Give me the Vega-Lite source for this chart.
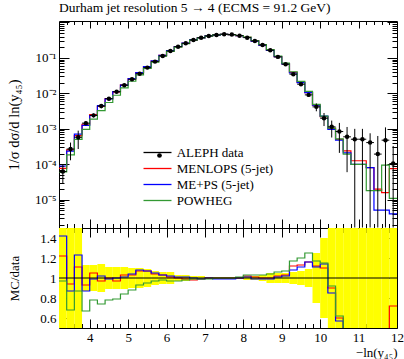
{
  "$schema": "https://vega.github.io/schema/vega-lite/v6.json",
  "padding": {"left": 5, "top": 0, "right": 0, "bottom": 0},
  "background": "white",
  "spacing": 0,
  "bounds": "flush",
  "config": {
    "view": {"stroke": "black", "strokeWidth": 1},
    "font": "Liberation Serif",
    "axis": {"domain": false, "grid": false, "tickColor": "black", "tickWidth": 1, "labelFont": "Liberation Serif", "labelFontSize": 13, "labelColor": "black", "titleFont": "Liberation Serif", "titleFontSize": 13, "titleFontWeight": "normal", "titleColor": "black", "labelFlush": false, "labelOverlap": false}
  },
  "resolve": {"scale": {"color": "independent", "shape": "independent"}},
  "datasets": {
    "bins": [
      {"lo":3.2,"hi":3.4,"c":3.3,"d":6.3e-5,"elo":2.8e-5,"ehi":1.0e-4,"blo":0.4,"bhi":1.6},
      {"lo":3.4,"hi":3.6,"c":3.5,"d":2.7e-4,"elo":1.3e-4,"ehi":4.1e-4,"blo":0.45,"bhi":1.55},
      {"lo":3.6,"hi":3.8,"c":3.7,"d":5.8e-4,"elo":2.7e-4,"ehi":8.9e-4,"blo":0.45,"bhi":1.55},
      {"lo":3.8,"hi":4.0,"c":3.9,"d":1.45e-3,"elo":1.26e-3,"ehi":1.64e-3,"blo":0.87,"bhi":1.13},
      {"lo":4.0,"hi":4.2,"c":4.1,"d":2.4e-3,"elo":2.09e-3,"ehi":2.71e-3,"blo":0.87,"bhi":1.13},
      {"lo":4.2,"hi":4.4,"c":4.3,"d":4.4e-3,"elo":3.78e-3,"ehi":5.02e-3,"blo":0.86,"bhi":1.14},
      {"lo":4.4,"hi":4.6,"c":4.5,"d":7.1e-3,"elo":6.32e-3,"ehi":7.88e-3,"blo":0.89,"bhi":1.11},
      {"lo":4.6,"hi":4.8,"c":4.7,"d":0.0112,"elo":0.00997,"ehi":0.01243,"blo":0.89,"bhi":1.11},
      {"lo":4.8,"hi":5.0,"c":4.9,"d":0.017,"elo":0.01513,"ehi":0.01887,"blo":0.89,"bhi":1.11},
      {"lo":5.0,"hi":5.2,"c":5.1,"d":0.025,"elo":0.0225,"ehi":0.0275,"blo":0.9,"bhi":1.1},
      {"lo":5.2,"hi":5.4,"c":5.3,"d":0.036,"elo":0.0324,"ehi":0.0396,"blo":0.9,"bhi":1.1},
      {"lo":5.4,"hi":5.6,"c":5.5,"d":0.0533,"elo":0.0485,"ehi":0.0581,"blo":0.91,"bhi":1.09},
      {"lo":5.6,"hi":5.8,"c":5.7,"d":0.0787,"elo":0.0732,"ehi":0.0842,"blo":0.93,"bhi":1.07},
      {"lo":5.8,"hi":6.0,"c":5.9,"d":0.114,"elo":0.1072,"ehi":0.1208,"blo":0.94,"bhi":1.06},
      {"lo":6.0,"hi":6.2,"c":6.1,"d":0.157,"elo":0.1476,"ehi":0.1664,"blo":0.94,"bhi":1.06},
      {"lo":6.2,"hi":6.4,"c":6.3,"d":0.208,"elo":0.2018,"ehi":0.2142,"blo":0.97,"bhi":1.03},
      {"lo":6.4,"hi":6.6,"c":6.5,"d":0.259,"elo":0.2512,"ehi":0.2668,"blo":0.97,"bhi":1.03},
      {"lo":6.6,"hi":6.8,"c":6.7,"d":0.321,"elo":0.3146,"ehi":0.3274,"blo":0.98,"bhi":1.02},
      {"lo":6.8,"hi":7.0,"c":6.9,"d":0.373,"elo":0.3655,"ehi":0.3805,"blo":0.98,"bhi":1.02},
      {"lo":7.0,"hi":7.2,"c":7.1,"d":0.417,"elo":0.4128,"ehi":0.4212,"blo":0.99,"bhi":1.01},
      {"lo":7.2,"hi":7.4,"c":7.3,"d":0.445,"elo":0.4406,"ehi":0.4495,"blo":0.99,"bhi":1.01},
      {"lo":7.4,"hi":7.6,"c":7.5,"d":0.466,"elo":0.4613,"ehi":0.4707,"blo":0.99,"bhi":1.01},
      {"lo":7.6,"hi":7.8,"c":7.7,"d":0.455,"elo":0.4505,"ehi":0.4596,"blo":0.99,"bhi":1.01},
      {"lo":7.8,"hi":8.0,"c":7.9,"d":0.425,"elo":0.4208,"ehi":0.4293,"blo":0.99,"bhi":1.01},
      {"lo":8.0,"hi":8.2,"c":8.1,"d":0.373,"elo":0.3655,"ehi":0.3805,"blo":0.98,"bhi":1.02},
      {"lo":8.2,"hi":8.4,"c":8.3,"d":0.301,"elo":0.295,"ehi":0.307,"blo":0.98,"bhi":1.02},
      {"lo":8.4,"hi":8.6,"c":8.5,"d":0.232,"elo":0.225,"ehi":0.239,"blo":0.97,"bhi":1.03},
      {"lo":8.6,"hi":8.8,"c":8.7,"d":0.165,"elo":0.1568,"ehi":0.1733,"blo":0.95,"bhi":1.05},
      {"lo":8.8,"hi":9.0,"c":8.9,"d":0.107,"elo":0.1017,"ehi":0.1124,"blo":0.95,"bhi":1.05},
      {"lo":9.0,"hi":9.2,"c":9.1,"d":0.0665,"elo":0.0632,"ehi":0.0698,"blo":0.95,"bhi":1.05},
      {"lo":9.2,"hi":9.4,"c":9.3,"d":0.0348,"elo":0.0327,"ehi":0.0369,"blo":0.94,"bhi":1.06},
      {"lo":9.4,"hi":9.6,"c":9.5,"d":0.0182,"elo":0.0169,"ehi":0.0195,"blo":0.93,"bhi":1.07},
      {"lo":9.6,"hi":9.8,"c":9.7,"d":0.00908,"elo":0.00826,"ehi":0.0099,"blo":0.91,"bhi":1.09},
      {"lo":9.8,"hi":10.0,"c":9.9,"d":0.00417,"elo":0.00313,"ehi":0.00521,"blo":0.75,"bhi":1.25},
      {"lo":10.0,"hi":10.2,"c":10.1,"d":0.002,"elo":0.0012,"ehi":0.0028,"blo":0.6,"bhi":1.4},
      {"lo":10.2,"hi":10.4,"c":10.3,"d":0.00114,"elo":0.00057,"ehi":0.00171,"blo":0.49,"bhi":1.51},
      {"lo":10.4,"hi":10.6,"c":10.5,"d":0.00084,"elo":0.00021,"ehi":0.00147,"blo":0.49,"bhi":1.51},
      {"lo":10.6,"hi":10.8,"c":10.7,"d":0.000596,"elo":0.00006,"ehi":0.00113,"blo":0.49,"bhi":1.51},
      {"lo":10.8,"hi":11.0,"c":10.9,"d":0.00051,"elo":1.65e-6,"ehi":0.001,"blo":0.49,"bhi":1.51},
      {"lo":11.0,"hi":11.2,"c":11.1,"d":0.00051,"elo":1.65e-6,"ehi":0.001,"blo":0.49,"bhi":1.51},
      {"lo":11.2,"hi":11.4,"c":11.3,"d":0.00041,"elo":1.65e-6,"ehi":0.00075,"blo":0.49,"bhi":1.51},
      {"lo":11.4,"hi":11.6,"c":11.5,"d":0.000194,"elo":1.65e-6,"ehi":0.00063,"blo":0.49,"bhi":1.51},
      {"lo":11.6,"hi":11.8,"c":11.7,"d":0.00048,"elo":1.65e-6,"ehi":0.0011,"blo":0.49,"bhi":1.51},
      {"lo":11.8,"hi":12.0,"c":11.9,"d":0.000105,"elo":1.65e-6,"ehi":0.00033,"blo":0.49,"bhi":1.51}
    ],
    "mc": [
      {"x":3.2,"M":7.69e-5,"P":8.95e-5,"W":6.11e-5,"rM":1.22,"rP":1.42,"rW":0.97},
      {"x":3.4,"M":2.54e-4,"P":2.35e-4,"W":1.84e-4,"rM":0.94,"rP":0.87,"rW":0.68},
      {"x":3.6,"M":6.44e-4,"P":7.13e-4,"W":5.05e-4,"rM":1.11,"rP":1.23,"rW":0.87},
      {"x":3.8,"M":1.35e-3,"P":1.26e-3,"W":9.72e-4,"rM":0.93,"rP":0.87,"rW":0.67},
      {"x":4.0,"M":2.52e-3,"P":2.38e-3,"W":1.87e-3,"rM":1.05,"rP":0.99,"rW":0.78},
      {"x":4.2,"M":4.27e-3,"P":4.49e-3,"W":3.26e-3,"rM":0.97,"rP":1.02,"rW":0.74},
      {"x":4.4,"M":7.1e-3,"P":7.03e-3,"W":5.54e-3,"rM":1.0,"rP":0.99,"rW":0.78},
      {"x":4.6,"M":0.01086,"P":0.0112,"W":0.00885,"rM":0.97,"rP":1.0,"rW":0.79},
      {"x":4.8,"M":0.01751,"P":0.01717,"W":0.01428,"rM":1.03,"rP":1.01,"rW":0.84},
      {"x":5.0,"M":0.02575,"P":0.026,"W":0.022,"rM":1.03,"rP":1.04,"rW":0.88},
      {"x":5.2,"M":0.03852,"P":0.03888,"W":0.03348,"rM":1.07,"rP":1.08,"rW":0.93},
      {"x":5.4,"M":0.05703,"P":0.05703,"W":0.05064,"rM":1.07,"rP":1.07,"rW":0.95},
      {"x":5.6,"M":0.08185,"P":0.08264,"W":0.07634,"rM":1.04,"rP":1.05,"rW":0.97},
      {"x":5.8,"M":0.1174,"P":0.1174,"W":0.1117,"rM":1.03,"rP":1.03,"rW":0.98},
      {"x":6.0,"M":0.1586,"P":0.1601,"W":0.1523,"rM":1.01,"rP":1.02,"rW":0.97},
      {"x":6.2,"M":0.208,"P":0.2101,"W":0.2018,"rM":1.0,"rP":1.01,"rW":0.97},
      {"x":6.4,"M":0.2564,"P":0.2616,"W":0.2538,"rM":0.99,"rP":1.01,"rW":0.98},
      {"x":6.6,"M":0.3146,"P":0.321,"W":0.3178,"rM":0.98,"rP":1.0,"rW":0.99},
      {"x":6.8,"M":0.3693,"P":0.3693,"W":0.3693,"rM":0.99,"rP":0.99,"rW":0.99},
      {"x":7.0,"M":0.417,"P":0.417,"W":0.4128,"rM":1.0,"rP":1.0,"rW":0.99},
      {"x":7.2,"M":0.445,"P":0.4406,"W":0.445,"rM":1.0,"rP":0.99,"rW":1.0},
      {"x":7.4,"M":0.466,"P":0.4613,"W":0.466,"rM":1.0,"rP":0.99,"rW":1.0},
      {"x":7.6,"M":0.455,"P":0.4505,"W":0.455,"rM":1.0,"rP":0.99,"rW":1.0},
      {"x":7.8,"M":0.425,"P":0.425,"W":0.4293,"rM":1.0,"rP":1.0,"rW":1.01},
      {"x":8.0,"M":0.3805,"P":0.3767,"W":0.3842,"rM":1.02,"rP":1.01,"rW":1.03},
      {"x":8.2,"M":0.304,"P":0.298,"W":0.31,"rM":1.01,"rP":0.99,"rW":1.03},
      {"x":8.4,"M":0.232,"P":0.2297,"W":0.239,"rM":1.0,"rP":0.99,"rW":1.03},
      {"x":8.6,"M":0.165,"P":0.1634,"W":0.1716,"rM":1.0,"rP":0.99,"rW":1.04},
      {"x":8.8,"M":0.1091,"P":0.1081,"W":0.1134,"rM":1.02,"rP":1.01,"rW":1.06},
      {"x":9.0,"M":0.0685,"P":0.0678,"W":0.0712,"rM":1.03,"rP":1.02,"rW":1.07},
      {"x":9.2,"M":0.039,"P":0.0376,"W":0.0407,"rM":1.12,"rP":1.08,"rW":1.17},
      {"x":9.4,"M":0.02057,"P":0.0202,"W":0.02184,"rM":1.13,"rP":1.11,"rW":1.2},
      {"x":9.6,"M":0.01053,"P":0.01053,"W":0.01135,"rM":1.16,"rP":1.16,"rW":1.25},
      {"x":9.8,"M":0.00467,"P":0.00463,"W":0.00488,"rM":1.12,"rP":1.11,"rW":1.17},
      {"x":10.0,"M":0.0022,"P":0.00228,"W":0.0023,"rM":1.1,"rP":1.14,"rW":1.15},
      {"x":10.2,"M":0.001026,"P":0.000969,"W":0.001049,"rM":0.9,"rP":0.85,"rW":0.92},
      {"x":10.4,"M":0.000504,"P":0.000479,"W":0.000521,"rM":0.6,"rP":0.57,"rW":0.62},
      {"x":10.6,"M":0.00024,"P":0.00021,"W":0.000194,"rM":0.4,"rP":0.35,"rW":0.33},
      {"x":10.8,"M":0.000126,"P":0.0001,"W":0.0001,"rM":0.25,"rP":0.2,"rW":0.2},
      {"x":11.0,"M":0.000126,"P":0.0001,"W":0.0001,"rM":0.25,"rP":0.2,"rW":0.2},
      {"x":11.2,"M":0.000081,"P":0.000081,"W":0.000018,"rM":0.2,"rP":0.2,"rW":0.044},
      {"x":11.4,"M":0.00002,"P":0.0000051,"W":0.000018,"rM":0.1,"rP":0.026,"rW":0.093},
      {"x":11.6,"M":0.000016,"P":0.0000051,"W":0.000095,"rM":0.033,"rP":0.011,"rW":0.2},
      {"x":11.8,"M":0.000076,"P":0.000004,"W":0.000011,"rM":0.72,"rP":0.038,"rW":0.105},
      {"x":12.0,"M":0.000076,"P":0.000004,"W":0.000011,"rM":0.72,"rP":0.038,"rW":0.105}
    ]
  },
  "vconcat": [
    {
      "width": 338,
      "height": 207,
      "title": {"text": "Durham jet resolution 5 → 4 (ECMS = 91.2 GeV)", "anchor": "start", "frame": "group", "font": "Liberation Serif", "fontSize": 13.5, "fontWeight": "normal", "color": "black", "offset": 2},
      "resolve": {"axis": {"x": "independent", "y": "independent"}},
      "layer": [
        {
          "data": {"name": "mc"},
          "transform": [{"fold": ["M", "P", "W"], "as": ["s", "v"]}],
          "mark": {"type": "line", "interpolate": "step-after", "strokeWidth": 1.2, "clip": true},
          "encoding": {
            "x": {"field": "x", "type": "quantitative", "scale": {"domain": [3.2, 12], "nice": false, "zero": false},
              "axis": {"orient": "bottom", "values": [3.4,3.6,3.8,4,4.2,4.4,4.6,4.8,5,5.2,5.4,5.6,5.8,6,6.2,6.4,6.6,6.8,7,7.2,7.4,7.6,7.8,8,8.2,8.4,8.6,8.8,9,9.2,9.4,9.6,9.8,10,10.2,10.4,10.6,10.8,11,11.2,11.4,11.6,11.8,12],
                "tickSize": {"condition": {"test": "abs(datum.value - round(datum.value)) < 0.01", "value": -9}, "value": -4.5}, "labels": false, "title": null}},
            "y": {"field": "v", "type": "quantitative", "scale": {"type": "log", "domain": [1.6e-6, 1.1], "nice": false},
              "axis": {"orient": "left", "values": [2e-6,3e-6,4e-6,5e-6,6e-6,7e-6,8e-6,9e-6,1e-5,2e-5,3e-5,4e-5,5e-5,6e-5,7e-5,8e-5,9e-5,1e-4,2e-4,3e-4,4e-4,5e-4,6e-4,7e-4,8e-4,9e-4,1e-3,0.002,0.003,0.004,0.005,0.006,0.007,0.008,0.009,0.01,0.02,0.03,0.04,0.05,0.06,0.07,0.08,0.09,0.1,0.2,0.3,0.4,0.5,0.6,0.7,0.8,0.9,1],
                "tickSize": {"condition": {"test": "abs(log(datum.value)/LN10 - round(log(datum.value)/LN10)) < 0.001", "value": -10}, "value": -5},
                "labelExpr": "datum.value == 0.1 ? '10⁻¹' : datum.value == 0.01 ? '10⁻²' : datum.value == 0.001 ? '10⁻³' : datum.value == 0.0001 ? '10⁻⁴' : datum.value == 0.00001 ? '10⁻⁵' : ''",
                "labelPadding": 13, "title": "1/σ dσ/d ln(y₄₅)", "titleFontSize": 14.5, "titleX": -45, "titleBaseline": "middle"}},
            "color": {"field": "s", "type": "nominal", "scale": {"domain": ["D", "M", "P", "W"], "range": ["#000000", "#ff0000", "#0000ff", "#339933"]},
              "legend": {"orient": "none", "legendX": 92, "legendY": 125, "title": null, "symbolType": "M-3,0H3", "symbolSize": 87, "symbolStrokeWidth": 1.3, "padding": 0, "rowPadding": 2, "labelOffset": 12.7, "labelFont": "Liberation Serif", "labelFontSize": 13, "labelColor": "black",
                "labelExpr": "datum.label == 'D' ? 'ALEPH data' : datum.label == 'M' ? 'MENLOPS (5-jet)' : datum.label == 'P' ? 'ME+PS (5-jet)' : 'POWHEG'"}}
          }
        },
        {
          "data": {"name": "bins"},
          "mark": {"type": "rule", "color": "black", "strokeWidth": 1, "clip": true},
          "encoding": {
            "x": {"field": "c", "type": "quantitative", "scale": {"domain": [3.2, 12], "nice": false, "zero": false}, "axis": null},
            "y": {"field": "elo", "type": "quantitative", "scale": {"type": "log", "domain": [1.6e-6, 1.1], "nice": false}, "axis": null},
            "y2": {"field": "ehi"}
          }
        },
        {
          "data": {"name": "bins"},
          "mark": {"type": "rule", "color": "black", "strokeWidth": 1, "clip": true},
          "encoding": {
            "x": {"field": "lo", "type": "quantitative", "scale": {"domain": [3.2, 12], "nice": false, "zero": false}, "axis": null},
            "x2": {"field": "hi"},
            "y": {"field": "d", "type": "quantitative", "scale": {"type": "log", "domain": [1.6e-6, 1.1], "nice": false}, "axis": null}
          }
        },
        {
          "data": {"name": "bins"},
          "mark": {"type": "point", "filled": true, "size": 20, "opacity": 1, "clip": true},
          "encoding": {
            "x": {"field": "c", "type": "quantitative", "scale": {"domain": [3.2, 12], "nice": false, "zero": false},
              "axis": {"orient": "top", "values": [3.4,3.6,3.8,4,4.2,4.4,4.6,4.8,5,5.2,5.4,5.6,5.8,6,6.2,6.4,6.6,6.8,7,7.2,7.4,7.6,7.8,8,8.2,8.4,8.6,8.8,9,9.2,9.4,9.6,9.8,10,10.2,10.4,10.6,10.8,11,11.2,11.4,11.6,11.8],
                "tickSize": {"condition": {"test": "abs(datum.value - round(datum.value)) < 0.01", "value": -7}, "value": -3.5}, "labels": false, "title": null}},
            "y": {"field": "d", "type": "quantitative", "scale": {"type": "log", "domain": [1.6e-6, 1.1], "nice": false},
              "axis": {"orient": "right", "values": [2e-6,3e-6,4e-6,5e-6,6e-6,7e-6,8e-6,9e-6,1e-5,2e-5,3e-5,4e-5,5e-5,6e-5,7e-5,8e-5,9e-5,1e-4,2e-4,3e-4,4e-4,5e-4,6e-4,7e-4,8e-4,9e-4,1e-3,0.002,0.003,0.004,0.005,0.006,0.007,0.008,0.009,0.01,0.02,0.03,0.04,0.05,0.06,0.07,0.08,0.09,0.1,0.2,0.3,0.4,0.5,0.6,0.7,0.8,0.9,1],
                "tickSize": {"condition": {"test": "abs(log(datum.value)/LN10 - round(log(datum.value)/LN10)) < 0.001", "value": -10}, "value": -5}, "labels": false, "title": null}},
            "color": {"value": "black"},
            "shape": {"datum": "D", "scale": {"domain": ["D"], "range": ["circle"]},
              "legend": {"orient": "none", "legendX": 94, "legendY": 128, "title": null, "symbolSize": 22, "padding": 0, "rowPadding": 2, "labelFontSize": 13, "labelFont": "Liberation Serif", "labelExpr": "''", "zindex": 2}}
          }
        }
      ]
    },
    {
      "width": 338,
      "height": 100,
      "resolve": {"axis": {"x": "independent", "y": "independent"}},
      "layer": [
        {
          "data": {"name": "bins"},
          "mark": {"type": "rect", "color": "#ffff00", "clip": true},
          "encoding": {
            "x": {"field": "lo", "type": "quantitative", "scale": {"domain": [3.2, 12], "nice": false, "zero": false},
              "axis": {"orient": "bottom", "values": [3.4,3.6,3.8,4,4.2,4.4,4.6,4.8,5,5.2,5.4,5.6,5.8,6,6.2,6.4,6.6,6.8,7,7.2,7.4,7.6,7.8,8,8.2,8.4,8.6,8.8,9,9.2,9.4,9.6,9.8,10,10.2,10.4,10.6,10.8,11,11.2,11.4,11.6,11.8,12],
                "tickSize": {"condition": {"test": "abs(datum.value - round(datum.value)) < 0.01", "value": -9}, "value": -4.5},
                "labelExpr": "abs(datum.value - round(datum.value)) < 0.01 ? format(datum.value, 'd') : ''",
                "labelPadding": 12, "title": "−ln(y₄₅)", "titleAnchor": "end", "titleY": 24, "titleBaseline": "middle"}},
            "x2": {"field": "hi"},
            "y": {"field": "blo", "type": "quantitative", "scale": {"domain": [0.5, 1.5], "nice": false, "zero": false},
              "axis": {"orient": "left", "values": [0.55,0.6,0.65,0.7,0.75,0.8,0.85,0.9,0.95,1,1.05,1.1,1.15,1.2,1.25,1.3,1.35,1.4,1.45],
                "tickSize": {"condition": {"test": "abs(datum.value*5 - round(datum.value*5)) < 0.01", "value": -10}, "value": -5},
                "labelExpr": "abs(datum.value*5 - round(datum.value*5)) < 0.01 ? format(datum.value, '~g') : ''",
                "labelPadding": 13, "title": "MC/data", "titleX": -45, "titleBaseline": "middle"}},
            "y2": {"field": "bhi"}
          }
        },
        {
          "data": {"name": "mc"},
          "transform": [{"fold": ["rM", "rP", "rW"], "as": ["s", "v"]}],
          "mark": {"type": "line", "interpolate": "step-after", "strokeWidth": 1.2, "clip": true},
          "encoding": {
            "x": {"field": "x", "type": "quantitative", "scale": {"domain": [3.2, 12], "nice": false, "zero": false},
              "axis": {"orient": "top", "values": [3.4,3.6,3.8,4,4.2,4.4,4.6,4.8,5,5.2,5.4,5.6,5.8,6,6.2,6.4,6.6,6.8,7,7.2,7.4,7.6,7.8,8,8.2,8.4,8.6,8.8,9,9.2,9.4,9.6,9.8,10,10.2,10.4,10.6,10.8,11,11.2,11.4,11.6,11.8],
                "tickSize": {"condition": {"test": "abs(datum.value - round(datum.value)) < 0.01", "value": -9}, "value": -4.5}, "labels": false, "title": null}},
            "y": {"field": "v", "type": "quantitative", "scale": {"domain": [0.5, 1.5], "nice": false, "zero": false}, "axis": null},
            "color": {"field": "s", "type": "nominal", "scale": {"domain": ["rM", "rP", "rW"], "range": ["#ff0000", "#0000ff", "#339933"]}, "legend": null}
          }
        },
        {
          "data": {"values": [{}]},
          "mark": {"type": "rule", "color": "black", "strokeWidth": 1},
          "encoding": {
            "y": {"datum": 1, "type": "quantitative", "scale": {"domain": [0.5, 1.5], "nice": false, "zero": false},
              "axis": {"orient": "right", "values": [0.55,0.6,0.65,0.7,0.75,0.8,0.85,0.9,0.95,1,1.05,1.1,1.15,1.2,1.25,1.3,1.35,1.4,1.45],
                "tickSize": {"condition": {"test": "abs(datum.value*5 - round(datum.value*5)) < 0.01", "value": -10}, "value": -5}, "labels": false, "title": null}}
          }
        }
      ]
    }
  ]
}
